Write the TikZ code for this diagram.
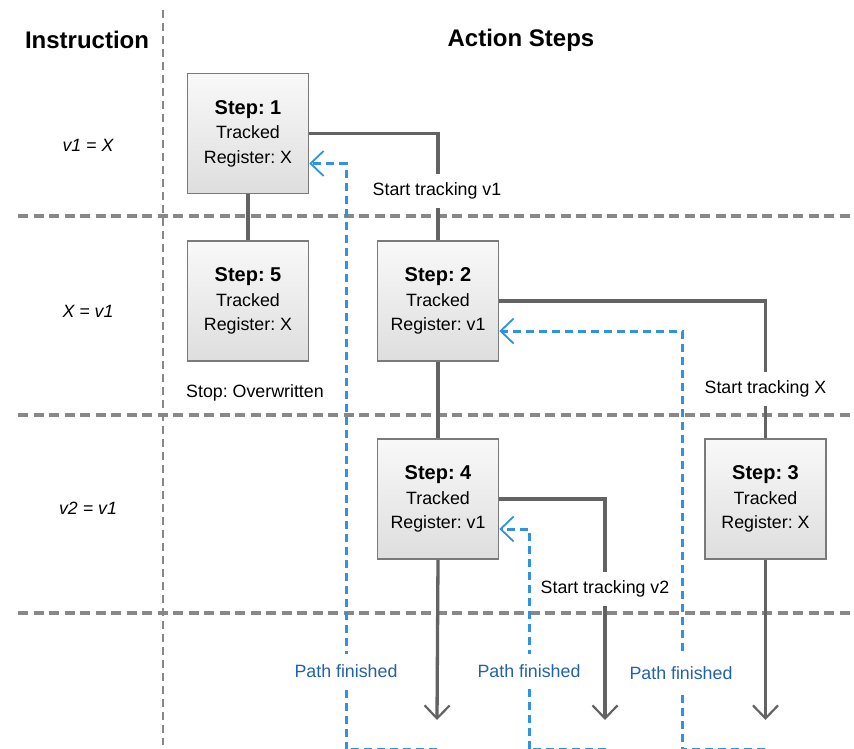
\documentclass[tikz,border=0pt]{standalone}
\usepackage{fontspec}
\setmainfont{Liberation Sans}
\usetikzlibrary{arrows.meta,calc}
\frenchspacing
\definecolor{conngray}{HTML}{636363}
\definecolor{gridgray}{HTML}{888888}
\definecolor{boxborder}{HTML}{7A7A7A}
\definecolor{pathblue}{HTML}{2F93E0}
\definecolor{lblblue}{HTML}{2362A8}
\tikzset{
  stepbox/.style={draw=boxborder, line width=1.6pt, top color=gray!5, bottom color=gray!26,
    minimum width=121pt, minimum height=120pt, inner sep=0pt, align=center,
    font=\fontsize{17.8}{24.5}\selectfont},
  conn/.style={draw=conngray, line width=3.3pt},
  connarrow/.style={conn, -{Straight Barb[length=13pt,width=25pt,line width=2.2pt]}},
  gridline/.style={draw=gridgray, line width=3.2pt, dash pattern=on 10pt off 5.5pt},
  vgridline/.style={draw=gridgray, line width=2.6pt, dash pattern=on 8pt off 5pt},
  blueconn/.style={draw=pathblue, line width=3pt, dash pattern=on 8pt off 5pt,
    -{Straight Barb[length=13pt,width=25pt,line width=1.8pt]}},
  conlbl/.style={fill=white, inner xsep=3pt, inner ysep=0pt, minimum height=34pt,
    font=\fontsize{17.8}{20}\selectfont},
  pathlbl/.style={conlbl, text=lblblue},
  header/.style={font=\fontsize{24}{28}\selectfont\bfseries},
  instr/.style={font=\fontsize{17.8}{20}\selectfont\itshape},
  plainlbl/.style={font=\fontsize{17.8}{20}\selectfont, inner sep=0pt}
}
\newcommand{\stephead}[1]{{\fontsize{20}{24.5}\selectfont\bfseries Step: #1}}
\begin{document}
\begin{tikzpicture}[x=1pt,y=-1pt]
\useasboundingbox (0,0) rectangle (854,749);
% grid
\coordinate (gv1) at (163,10);
\coordinate (gv2) at (163,745);
\draw[vgridline] (gv1) -- (gv2);
\coordinate (gh1a) at (18,216);  \coordinate (gh1b) at (854,216);
\coordinate (gh2a) at (18,415);  \coordinate (gh2b) at (854,415);
\coordinate (gh3a) at (18,613);  \coordinate (gh3b) at (854,613);
\draw[gridline] (gh1a) -- (gh1b);
\draw[gridline] (gh2a) -- (gh2b);
\draw[gridline] (gh3a) -- (gh3b);
% headers
\node[header] (hinstr) at (87,40) {Instruction};
\node[header] (hact) at (521,40) {Action Steps};
% instructions
\node[instr] (i1) at (88,145) {v1 = X};
\node[instr] (i2) at (88,311) {X = v1};
\node[instr] (i3) at (88,508) {v2 = v1};
% steps
\node[stepbox] (s1) at (248,133.5) {\stephead{1}\\Tracked\\Register: X};
\node[stepbox] (s5) at (248,301) {\stephead{5}\\Tracked\\Register: X};
\node[stepbox] (s2) at (438,301) {\stephead{2}\\Tracked\\Register: v1};
\node[stepbox] (s4) at (438,499) {\stephead{4}\\Tracked\\Register: v1};
\node[stepbox] (s3) at (765.5,499) {\stephead{3}\\Tracked\\Register: X};
% arrow ends
\coordinate (e4) at (437,720);
\coordinate (ev2) at (605,720);
\coordinate (e3) at (765.5,720);
% connectors
\draw[conn] (s1.east) -| (s2.north);
\draw[conn] (s1.south) -- (s5.north);
\draw[conn] (s2.east) -| (s3.north);
\draw[conn] (s2.south) -- (s4.north);
\draw[connarrow] (s4.east) -| (ev2);
\draw[connarrow] (s4.south) -- (e4);
\draw[connarrow] (s3.south) -- (e3);
% blue return paths
\coordinate (b1s) at (437,749.6);  \coordinate (b1c) at (346,749.6);
\coordinate (b2s) at (606,749.6);  \coordinate (b2c) at (529,749.6);
\coordinate (b3s) at (765,749.6);  \coordinate (b3c) at (682,749.6);
\draw[blueconn] (b1s) -- (b1c) |- ($(s1.east)+(0,30)$);
\draw[blueconn] (b2s) -- (b2c) |- ($(s4.east)+(0,30)$);
\draw[blueconn] (b3s) -- (b3c) |- ($(s2.east)+(0,30)$);
% labels
\node[conlbl] (l1) at (437,191) {Start tracking v1};
\node[conlbl] (l2) at (765.5,389) {Start tracking X};
\node[conlbl] (l3) at (605,589) {Start tracking v2};
\node[plainlbl] (stop) at (255,393) {Stop: Overwritten};
\node[pathlbl] (p1) at (346,671) {Path finished};
\node[pathlbl] (p2) at (529,671) {Path finished};
\node[pathlbl] (p3) at (681,673) {Path finished};
\end{tikzpicture}
\end{document}
